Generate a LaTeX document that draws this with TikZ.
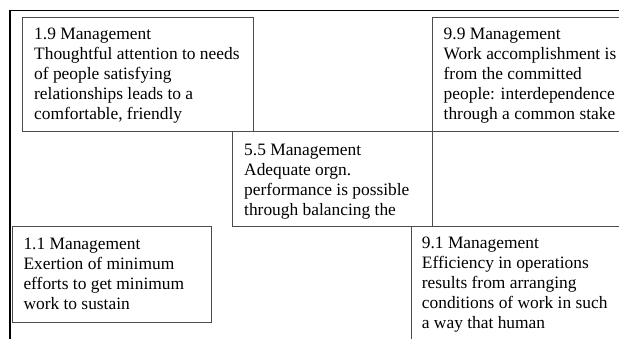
\documentclass[tikz,border=0pt]{standalone}
\usepackage{fontspec}
\setmainfont{Liberation Serif}
\begin{document}
\begin{tikzpicture}[x=1pt,y=-1pt,
  frame/.style={draw=black,line width=1.3pt},
  boxline/.style={draw=black!70,line width=0.9pt},
  % multi-line nodes sit on the baseline of their last line
  boxtext/.style={anchor=base west,align=left,inner sep=0pt,
    font=\fontsize{17.4}{20}\selectfont}]
\useasboundingbox (0,0) rectangle (619,339);
\clip (0,0) rectangle (619,339);
% outer grid frame
\draw[frame] (10,350) -- (10,10.5) -- (630,10.5);
% management style boxes
\draw[boxline] (22,17) rectangle (253,131);
\draw[boxline] (432,17) rectangle (640,131);
\draw[boxline] (232,131) rectangle (432,226);
\draw[boxline] (12,226) rectangle (211,322);
\draw[boxline] (411,226) rectangle (640,350);
% box texts
\node[boxtext] (t19) at (34,120) {1.9 Management\\Thoughtful attention to needs\\of people satisfying\\relationships leads to a\\comfortable, friendly};
\node[boxtext] (t99) at (443.5,120) {9.9 Management\\Work accomplishment is\\from the committed\\people: interdependence\\through a common stake};
\node[boxtext] (t55) at (244,216) {5.5 Management\\Adequate orgn.\\performance is possible\\through balancing the};
\node[boxtext] (t11) at (23.3,309.3) {1.1 Management\\Exertion of minimum\\efforts to get minimum\\work to sustain};
\node[boxtext] (t91) at (421.7,328.3) {9.1 Management\\Efficiency in operations\\results from arranging\\conditions of work in such\\a way that human};
\end{tikzpicture}
\end{document}
